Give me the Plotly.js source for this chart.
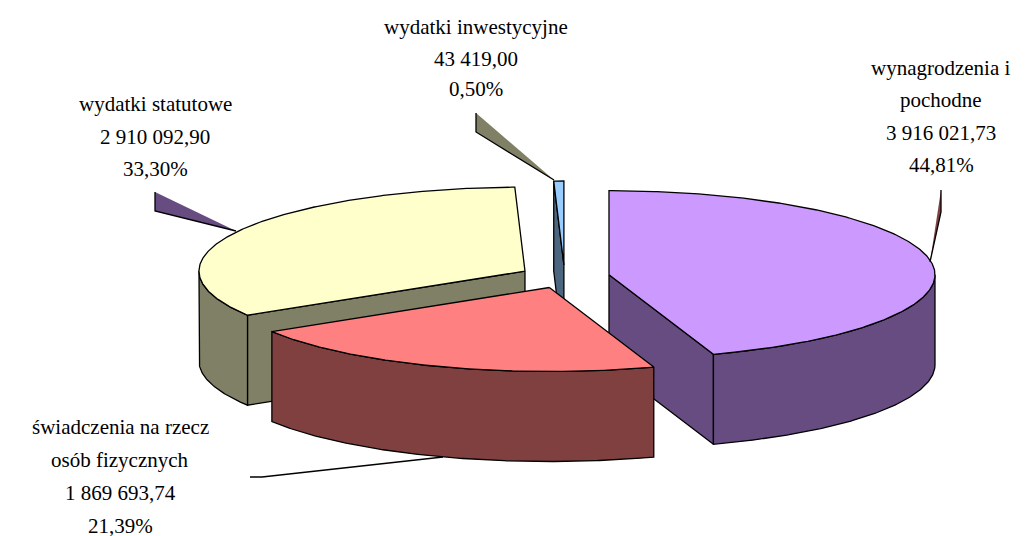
<!DOCTYPE html>
<html><head><meta charset="utf-8">
<script src="https://cdn.plot.ly/plotly-3.0.1.min.js"></script>
<style>html,body{margin:0;padding:0;background:#fff;overflow:hidden}</style>
</head><body><div id="chart" style="width:1027px;height:536px"></div>
<script>
const categories = ["wynagrodzenia i pochodne","świadczenia na rzecz osób fizycznych","wydatki statutowe","wydatki inwestycyjne"];
const values = [3916021.73, 1869693.74, 2910092.90, 43419.00];
const amountLabels = ["3 916 021,73","1 869 693,74","2 910 092,90","43 419,00"];
const percentLabels = ["44,81%","21,39%","33,30%","0,50%"];
const topColors = ["#CC99FF","#FF8080","#FFFFCC","#99CCFF"];
const sideColors = ["#664C80","#804040","#808066","#4D6680"];

// projection of the tilted, exploded pie
const CX = 564.6, CY = 276.6, RX = 326, RY = 84, DEPTH = 90, EXPLODE = 0.138;
const total = values.reduce((a,b)=>a+b,0);
const rad = d => d*Math.PI/180;
let acc = 0;
const slices = values.map((v,i)=>{
  const start = acc/total*360; acc += v; const end = acc/total*360; const mid=(start+end)/2;
  return {i,start,end,mid,
    ax: CX + EXPLODE*RX*Math.sin(rad(mid)),
    ay: CY - EXPLODE*RY*Math.cos(rad(mid))};
});
const rim = (s,a) => [s.ax+RX*Math.sin(rad(a)), s.ay-RY*Math.cos(rad(a))];
const arc = (s,a,b) => { const n=Math.max(2,Math.ceil(Math.abs(b-a))*2), p=[];
  for(let k=0;k<=n;k++) p.push(rim(s,a+(b-a)*k/n)); return p; };
const poly = (pts,fill,line=true) => ({type:"scatter",mode:"lines",
  x:pts.map(p=>p[0]).concat(pts[0][0]), y:pts.map(p=>p[1]).concat(pts[0][1]),
  fill:"toself", fillcolor:fill, hoverinfo:"skip", showlegend:false,
  line:{color:line?"#000":"rgba(0,0,0,0)",width:line?1.3:0,shape:"linear"}});
const stroke = (pts) => ({type:"scatter",mode:"lines",x:pts.map(p=>p[0]),y:pts.map(p=>p[1]),
  hoverinfo:"skip",showlegend:false,line:{color:"#000",width:1.3}});

const traces = [];
// paint from the back of the pie to the front
[...slices].sort((a,b)=>Math.cos(rad(b.mid))-Math.cos(rad(a.mid))).forEach(s=>{
  const side = sideColors[s.i], top = topColors[s.i];
  const wall = (a)=>{ const r=rim(s,a);
    traces.push(poly([[s.ax,s.ay],r,[r[0],r[1]+DEPTH],[s.ax,s.ay+DEPTH]],side)); };
  if (Math.sin(rad(s.start)) < -1e-6) wall(s.start);
  if (Math.sin(rad(s.end)) > 1e-6) wall(s.end);
  const a0=Math.max(s.start,90), a1=Math.min(s.end,270);
  if (a1>a0){ const t=arc(s,a0,a1);
    traces.push(poly(t.concat(t.slice().reverse().map(p=>[p[0],p[1]+DEPTH])),side)); }
  traces.push(poly([[s.ax,s.ay]].concat(arc(s,s.start,s.end)),top));
});

// leader callouts
const leaders = [
  {fill:"#804040", pts:[[941,190],[941,212],[930,262]]},
  {fill:"#664C80", pts:[[155,192],[155,211],[236,231]]},
  {fill:"#808066", pts:[[476,113],[476,132],[554,180]]}
];
leaders.forEach(l=>{ traces.push(poly(l.pts,l.fill,false)); traces.push(stroke(l.pts)); });
traces.push(stroke([[250,477],[262,477],[443,457]]));

// labels
const labelLines = [
  {x:941,y:[68,100,133,165],t:["wynagrodzenia i","pochodne",amountLabels[0],percentLabels[0]]},
  {x:120,y:[427,460,493,526],t:["świadczenia na rzecz","osób fizycznych",amountLabels[1],percentLabels[1]]},
  {x:155,y:[104,137,169],t:[categories[2],amountLabels[2],percentLabels[2]]},
  {x:476,y:[27,59,89],t:[categories[3],amountLabels[3],percentLabels[3]]}
];
const annotations=[];
labelLines.forEach(g=>g.t.forEach((t,k)=>annotations.push({x:g.x,y:g.y[k],xref:"x",yref:"y",text:t,showarrow:false,
  xanchor:"center",yanchor:"middle",font:{family:"Liberation Serif",size:21,color:"#000"}})));

Plotly.newPlot("chart",traces,{
  width:1027,height:536,margin:{l:0,r:0,t:0,b:0},paper_bgcolor:"#fff",plot_bgcolor:"#fff",showlegend:false,
  xaxis:{range:[0,1027],visible:false,fixedrange:true},
  yaxis:{range:[536,0],visible:false,fixedrange:true},
  annotations
},{displayModeBar:false,staticPlot:true});
</script></body></html>
